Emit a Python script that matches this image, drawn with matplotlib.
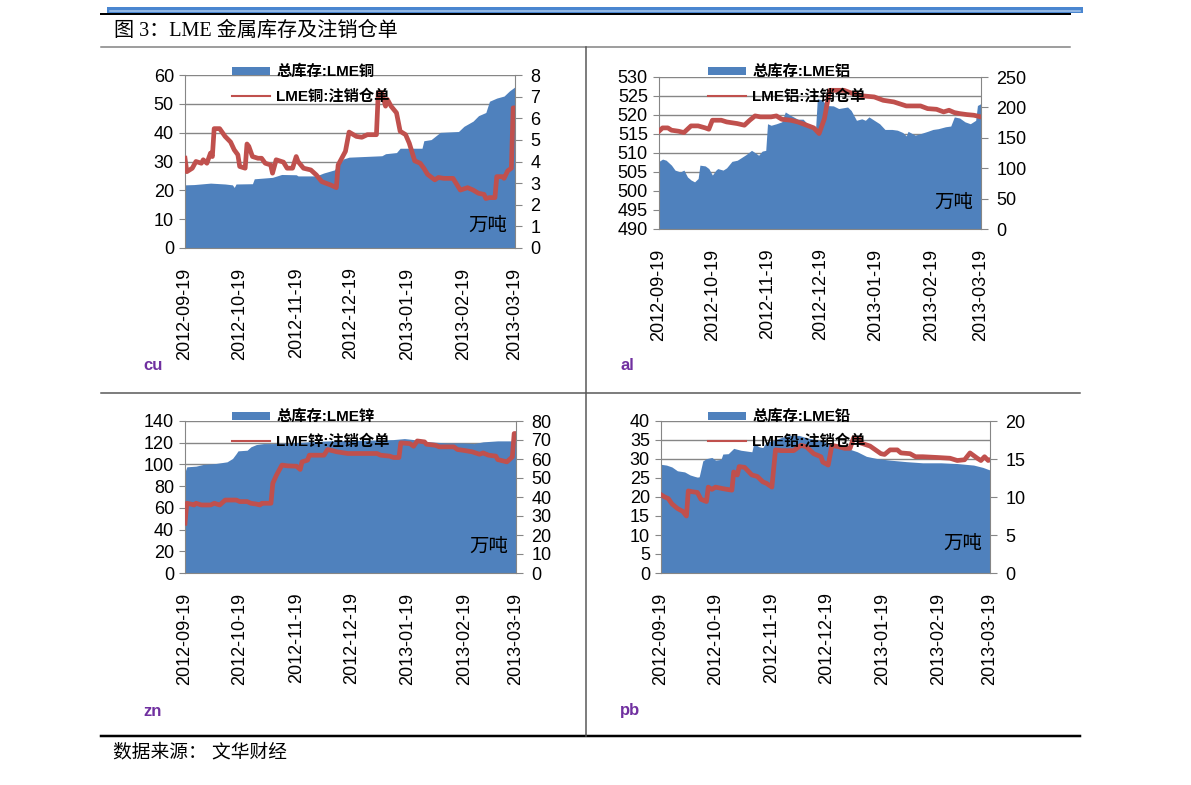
import numpy as np
import matplotlib
matplotlib.use('Agg')
import matplotlib.pyplot as plt
from matplotlib.lines import Line2D
from matplotlib.patches import Patch

plt.rcParams['font.family'] = ['Liberation Sans', 'Noto Sans CJK SC']

tick_dates = ['2012-09-19', '2012-10-19', '2012-11-19', '2012-12-19',
              '2013-01-19', '2013-02-19', '2013-03-19']

# copper: total stock (left axis) and cancelled warrants (right axis), day offsets from 2012-09-19
cu_stock_day = [0, 5, 14, 22, 26, 27, 28, 37, 38, 48, 53, 61, 62, 72, 76, 82, 84, 87, 90, 108,
                110, 116, 118, 130, 131, 135, 140, 150, 153, 158, 161, 165, 167, 171, 175, 178, 181]
cu_stock = [21.9, 22.0, 22.5, 22.2, 21.9, 21.0, 22.2, 22.3, 24.0, 24.5, 25.5, 25.4, 25.0, 25.0,
            26.0, 27.1, 29.0, 30.9, 31.5, 32.0, 32.7, 33.1, 34.6, 34.6, 37.2, 37.6, 40.1, 40.4,
            42.2, 44.0, 45.9, 47.0, 50.9, 52.0, 52.7, 54.5, 55.9]
cu_cancel_day = [0, 1, 4, 6, 9, 10, 12, 14, 15, 16, 19, 22, 25, 27, 29, 30, 33, 34, 35, 37,
                 40, 42, 44, 47, 48, 50, 54, 56, 59, 61, 62, 65, 69, 72, 75, 80, 83, 84, 88, 90,
                 94, 97, 100, 105, 106, 108, 110, 111, 113, 116, 118, 121, 123, 126, 129, 131,
                 133, 137, 139, 142, 147, 151, 155, 158, 161, 164, 165, 167, 170, 171, 174, 175,
                 177, 179, 180, 181]
cu_cancel = [4.15, 3.53, 3.69, 4.0, 3.92, 4.08, 3.92, 4.39, 4.23, 5.52, 5.52, 5.16, 4.9, 4.54,
             4.31, 3.77, 3.69, 4.81, 4.7, 4.23, 4.15, 4.15, 3.92, 3.84, 3.46, 4.08, 3.97, 3.69,
             3.69, 4.23, 4.0, 3.69, 3.61, 3.38, 3.07, 2.91, 2.79, 3.84, 4.47, 5.36, 5.16, 5.12,
             5.24, 5.24, 7.18, 7.18, 6.56, 6.87, 6.56, 6.25, 5.4, 5.24, 4.85, 4.03, 3.92, 3.69,
             3.41, 3.15, 3.26, 3.22, 3.22, 2.68, 2.79, 2.68, 2.53, 2.48, 2.29, 2.33, 2.33, 3.3,
             3.3, 3.22, 3.57, 3.69, 6.48, 6.48]

# aluminium
al_stock_day = [0, 2, 4, 7, 9, 12, 14, 16, 18, 20, 22, 23, 26, 28, 30, 32, 33, 36, 38, 41,
                44, 47, 49, 52, 54, 56, 58, 60, 61, 63, 66, 69, 71, 74, 78, 81, 85, 88, 89, 92,
                94, 98, 101, 106, 108, 111, 114, 116, 118, 121, 124, 127, 131, 134, 137, 139,
                140, 144, 147, 151, 154, 157, 161, 164, 166, 169, 172, 175, 178, 179, 181]
al_stock = [507.8, 508.4, 508.1, 506.8, 505.5, 505.0, 505.5, 503.7, 502.9, 502.4, 503.3, 506.8,
            506.6, 505.9, 504.2, 505.5, 505.9, 505.5, 506.1, 507.8, 508.1, 509.0, 509.6, 510.7,
            510.1, 509.4, 510.5, 510.7, 517.7, 517.3, 517.7, 518.2, 520.8, 519.9, 518.9, 518.9,
            516.9, 516.2, 524.3, 523.9, 522.5, 522.4, 521.7, 522.1, 521.2, 518.6, 519.0, 518.6,
            519.5, 518.6, 517.7, 516.2, 516.2, 516.0, 515.4, 514.5, 515.7, 514.7, 515.1, 515.7,
            516.2, 516.4, 516.9, 517.1, 519.5, 519.2, 518.2, 517.7, 518.6, 522.5, 523.0]
al_cancel_day = [0, 2, 5, 7, 11, 14, 16, 18, 22, 26, 28, 30, 32, 35, 38, 44, 48, 51, 54, 57,
                 63, 66, 69, 74, 78, 83, 87, 90, 93, 95, 96, 104, 109, 115, 121, 126, 132, 139,
                 147, 151, 156, 160, 163, 166, 169, 173, 177, 181]
al_cancel = [160.8, 166.3, 166.3, 162.5, 160.8, 158.6, 164.1, 169.6, 169.6, 166.3, 164.1, 178.9,
             178.9, 178.9, 176.1, 173.4, 170.7, 178.9, 186.0, 184.4, 184.4, 186.0, 180.5, 178.9,
             176.1, 170.7, 166.3, 157.0, 181.6, 214.4, 228.1, 228.1, 222.6, 218.8, 217.2, 211.7,
             209.0, 202.4, 202.4, 198.0, 196.9, 192.6, 195.3, 191.5, 189.8, 188.2, 187.1, 184.4]

# zinc
zn_stock_day = [0, 1, 6, 10, 17, 23, 26, 28, 29, 34, 36, 39, 43, 48, 58, 67, 79, 98, 114, 120,
                125, 134, 143, 152, 158, 163, 171, 181]
zn_stock = [93.2, 97.8, 98.4, 100.0, 100.9, 102.4, 105.5, 110.0, 112.5, 113.1, 116.2, 118.3,
            119.2, 119.2, 119.8, 120.8, 121.7, 122.3, 122.9, 123.8, 122.9, 120.8, 119.8, 119.8,
            119.2, 120.8, 121.7, 121.7]
zn_cancel_day = [0, 1, 3, 5, 6, 9, 14, 16, 19, 22, 28, 30, 34, 36, 39, 41, 42, 47, 48, 50,
                 53, 56, 61, 63, 64, 67, 68, 76, 78, 83, 89, 105, 107, 112, 114, 117, 118, 123,
                 125, 127, 131, 132, 137, 139, 147, 149, 152, 157, 161, 163, 166, 170, 171, 176,
                 179, 180, 181]
zn_cancel = [26.2, 36.7, 36.3, 35.8, 36.7, 35.8, 35.8, 36.7, 35.8, 38.4, 38.4, 37.6, 37.6, 36.7,
             36.3, 35.8, 36.7, 36.7, 47.2, 51.5, 56.8, 56.4, 56.2, 54.5, 58.5, 59.4, 62.0, 62.0,
             65.0, 63.8, 62.9, 62.9, 62.0, 61.5, 60.8, 60.8, 68.5, 68.1, 66.7, 69.5, 69.0, 67.8,
             67.2, 66.4, 66.4, 65.0, 64.6, 63.8, 62.5, 63.2, 62.0, 61.5, 59.7, 58.5, 61.1, 73.4,
             73.4]

# lead
pb_stock_day = [0, 3, 6, 9, 13, 16, 20, 21, 23, 25, 28, 30, 33, 34, 37, 40, 44, 47, 50, 51,
                54, 56, 58, 62, 67, 71, 76, 80, 88, 93, 100, 108, 113, 119, 126, 135, 144, 154,
                163, 172, 177, 181]
pb_stock = [28.6, 28.4, 27.9, 26.9, 26.6, 25.8, 25.2, 25.3, 29.5, 30.1, 30.4, 29.7, 29.9, 31.3,
            31.4, 32.8, 32.3, 32.1, 31.9, 34.1, 33.2, 33.0, 34.5, 34.9, 35.8, 36.2, 36.2, 35.6,
            34.8, 34.1, 33.2, 31.9, 30.7, 30.1, 29.7, 29.3, 29.0, 29.0, 28.8, 28.4, 27.8, 27.1]
pb_cancel_day = [0, 2, 4, 6, 9, 12, 14, 15, 17, 20, 22, 25, 26, 28, 30, 34, 39, 40, 42, 43,
                 46, 50, 53, 56, 58, 61, 63, 66, 73, 77, 80, 84, 88, 89, 92, 94, 98, 101, 104,
                 106, 109, 110, 115, 118, 121, 123, 126, 130, 132, 137, 140, 144, 152, 159, 163,
                 167, 170, 174, 176, 178, 180, 181]
pb_cancel = [10.3, 10.0, 9.8, 9.1, 8.5, 8.1, 7.5, 10.8, 10.7, 10.6, 9.7, 9.4, 11.3, 11.0, 11.3,
             11.1, 10.9, 13.3, 12.9, 14.0, 13.9, 12.9, 12.7, 12.0, 11.8, 11.3, 16.2, 16.1, 16.1,
             16.8, 16.6, 15.7, 15.3, 14.6, 14.2, 16.8, 16.6, 16.4, 16.4, 17.8, 17.7, 17.1, 16.7,
             16.2, 15.7, 15.6, 16.2, 16.2, 15.8, 15.7, 15.3, 15.3, 15.2, 15.1, 14.8, 14.9, 15.8,
             15.1, 14.8, 15.3, 14.8, 14.9]

W, H = 1191, 785
BLUE = '#4F81BD'
RED = '#C0504D'
GRAY = '#868686'

fig = plt.figure(figsize=(W / 100, H / 100), dpi=100)

start = np.datetime64('2012-09-19')
tick_pos = (np.array(tick_dates, dtype='datetime64[D]') - start).astype(int)


def fx(x):
    return x / W


def fy(y):
    return 1 - y / H


def panel(box, sday, stock, cday, cancel, lticks, rticks, names, tag, leg_xy, unit_y):
    x0, y0, x1, y1 = box
    ax = fig.add_axes([fx(x0), fy(y1), (x1 - x0) / W, (y1 - y0) / H])
    ax.fill_between(sday, stock, lticks[0], color=BLUE, lw=0)
    ax.set_xlim(0, tick_pos[-1])
    ax.set_ylim(lticks[0], lticks[-1])
    ax.set_yticks(lticks)
    ax.set_xticks(tick_pos)
    ax.set_xticklabels(tick_dates, rotation=90)
    ax.yaxis.grid(True, color=GRAY, lw=1)
    ax.set_axisbelow(True)
    ax.tick_params(axis='y', direction='out', length=4, color=GRAY, labelsize=13, pad=4)
    ax.tick_params(axis='x', length=0, labelsize=13, pad=14)
    for s in ['top', 'right']:
        ax.spines[s].set_visible(False)
    for s in ['left', 'bottom']:
        ax.spines[s].set_color(GRAY)

    ax2 = ax.twinx()
    ax2.plot(cday, cancel, color=RED, lw=3.4, solid_joinstyle='round')
    ax2.set_ylim(rticks[0], rticks[-1])
    ax2.set_yticks(rticks)
    ax2.tick_params(axis='y', direction='out', length=5, color=GRAY, labelsize=13, pad=6)
    for s in ['top', 'left', 'bottom']:
        ax2.spines[s].set_visible(False)
    ax2.spines['right'].set_color(GRAY)

    ax2.text(1 - 8 / (x1 - x0), unit_y, '万吨', transform=ax2.transAxes,
             ha='right', va='center', fontsize=14)

    handles = [Patch(facecolor=BLUE, edgecolor='none'), Line2D([], [], color=RED, lw=1.5)]
    leg = ax2.legend(handles, names, loc='upper left',
                     bbox_to_anchor=(fx(leg_xy[0]), fy(leg_xy[1])),
                     bbox_transform=fig.transFigure, frameon=False,
                     prop={'size': 11, 'weight': 'bold'}, handlelength=2.5,
                     handleheight=0.4, handletextpad=0.4, labelspacing=0.6,
                     borderpad=0, borderaxespad=0)
    leg.set_zorder(10)

    fig.text(fx(tag[1]), fy(tag[2]), tag[0], color='#7030A0', fontsize=12,
             fontweight='bold', ha='center', va='center')


panel((185, 75, 515, 248), cu_stock_day, cu_stock, cu_cancel_day, cu_cancel,
      list(range(0, 61, 10)), list(range(0, 9, 1)),
      ['总库存:LME铜', 'LME铜:注销仓单'], ('cu', 153, 366), (232, 65), 0.127)
panel((659, 77, 981, 229), al_stock_day, al_stock, al_cancel_day, al_cancel,
      list(range(490, 531, 5)), list(range(0, 251, 50)),
      ['总库存:LME铝', 'LME铝:注销仓单'], ('al', 627, 366), (708, 65), 0.171)
panel((185, 421, 516, 573), zn_stock_day, zn_stock, zn_cancel_day, zn_cancel,
      list(range(0, 141, 20)), list(range(0, 81, 10)),
      ['总库存:LME锌', 'LME锌:注销仓单'], ('zn', 153, 711), (232, 410), 0.171)
panel((661, 421, 990, 573), pb_stock_day, pb_stock, pb_cancel_day, pb_cancel,
      list(range(0, 41, 5)), list(range(0, 21, 5)),
      ['总库存:LME铅', 'LME铅:注销仓单'], ('pb', 630, 711), (708, 410), 0.19)

# page decoration
def hline(x0, x1, y, lw_px, color):
    fig.add_artist(Line2D([fx(x0), fx(x1)], [fy(y), fy(y)], lw=lw_px * 0.72,
                          color=color, transform=fig.transFigure))


hline(110, 1080, 10, 6, '#4A86D0')
hline(110, 1080, 10.5, 1.5, '#A9C8EC')
hline(101, 1070, 14.3, 2, '#000000')
hline(101, 1070, 47, 1.5, '#808080')
hline(101, 1080, 392.5, 1.5, '#555555')
hline(101, 1080, 736, 2.5, '#000000')
fig.add_artist(Line2D([fx(586), fx(586)], [fy(47), fy(736)], lw=1.5 * 0.72,
                      color='#555555', transform=fig.transFigure))

fig.text(fx(114), fy(31), '图 3：LME 金属库存及注销仓单', fontsize=14.5,
         family=['Liberation Serif', 'Noto Sans CJK SC'], va='center', ha='left')
fig.text(fx(113), fy(753), '数据来源： 文华财经', fontsize=13.5, va='center', ha='left')

fig.savefig('out.png', dpi=100)
